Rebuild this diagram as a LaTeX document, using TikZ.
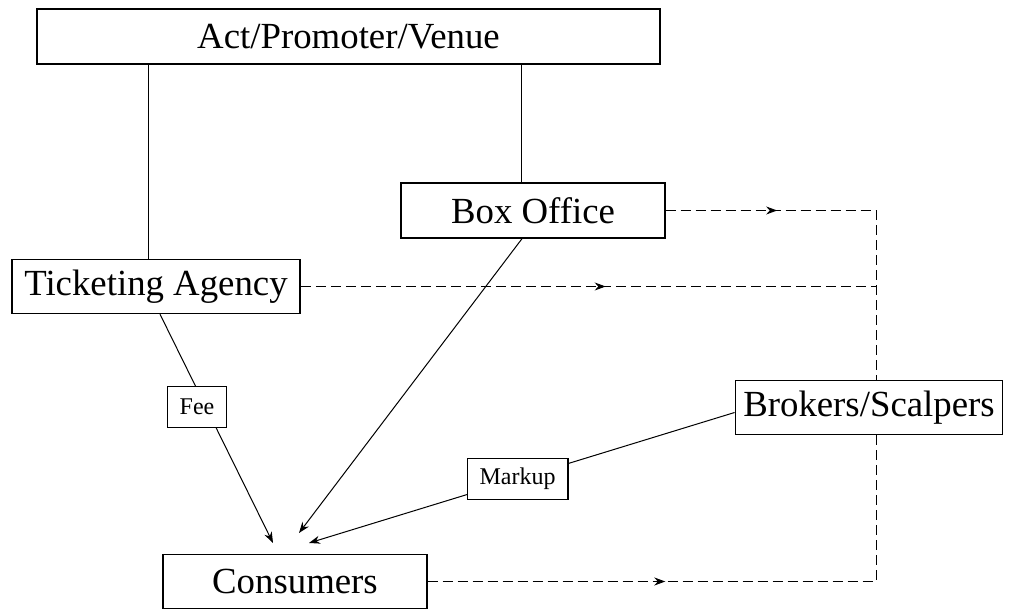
\documentclass[tikz,border=0pt]{standalone}
\usepackage{fontspec}
\setmainfont{Liberation Serif}
\usetikzlibrary{positioning}
\usetikzlibrary{arrows.meta,decorations.markings}

\tikzset{
 box/.style={draw,fill=white,line width=0.7pt,inner xsep=6.25pt,minimum height=27pt,font=\fontsize{18.4pt}{22pt}\selectfont},
 lbl/.style={draw,fill=white,line width=0.6pt,inner xsep=6.2pt,minimum height=20.5pt,font=\fontsize{12pt}{14pt}\selectfont},
 arr/.style={line width=0.5pt,-{Stealth[length=5.5pt,width=4pt]}},
 dline/.style={line width=0.5pt,dash pattern=on 5pt off 2.5pt},
 midarrow/.style={postaction={decorate},decoration={markings,mark=at position 0.53 with {\arrow{Stealth[length=5.5pt,width=4pt]}}}}
}

\begin{document}
\begin{tikzpicture}[x=0.5pt,y=-0.5pt]
 \useasboundingbox (0,0) rectangle (1009,610);
 % boxes
 \node[box,minimum width=311.5pt,minimum height=27.5pt] (act) at (348.5,36.5) {Act/Promoter/Venue};
 \node[box,minimum width=132pt,minimum height=27.5pt] (bo) at (533,210.5) {Box Office};
 \node[box] (ta) at (156,286.5) {Ticketing Agency};
 \node[box,inner xsep=4pt] (bs) at (869,407.5) {Brokers/Scalpers};
 \node[box,minimum width=132pt] (cons) at (295,581.5) {Consumers};
 \coordinate (c1) at (876,210.5);
 \coordinate (t1) at (273,543);
 \coordinate (t2) at (299,533);
 \coordinate (t3) at (309,543);
 % solid links
 \draw[line width=0.5pt] ([xshift=-4pt]ta.north) -- ([xshift=-4pt]ta.north |- act.south);
 \draw[line width=0.5pt] ([xshift=-6pt]bo.north) -- ([xshift=-6pt]bo.north |- act.south);
 \draw[arr] ([xshift=2pt]ta.south) -- (t1);
 \node[lbl] (fee) at (197,407) {Fee};
 \draw[arr] ([xshift=-5.5pt]bo.south) -- (t2);
 \draw[arr] ([yshift=-2.5pt]bs.west) -- node[lbl,pos=0.51] (mk) {Markup} (t3);
 % dashed resale loop
 \draw[dline,midarrow] (bo.east) -- (c1);
 \draw[dline,midarrow] (ta.east) -- (ta.east -| c1);
 \draw[dline,midarrow] (cons.east) -- (cons.east -| c1);
 \draw[dline] (c1) -- (c1 |- bs.north);
 \draw[dline] (c1 |- bs.south) -- (c1 |- cons.east);
\end{tikzpicture}
\end{document}
